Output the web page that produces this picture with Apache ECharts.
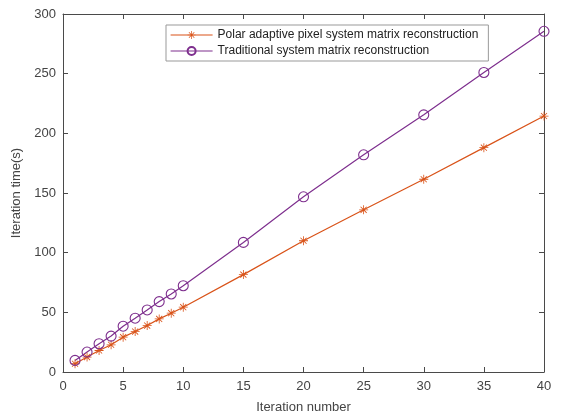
<!DOCTYPE html>
<html><head><meta charset="utf-8">
<script src="https://cdn.jsdelivr.net/npm/echarts@6/dist/echarts.min.js"></script>
<style>html,body{margin:0;padding:0;background:#fff}#c{width:561px;height:419px}</style>
</head><body><div id="c"></div>
<script>
var iterations = [1,2,3,4,5,6,7,8,9,10,15,20,25,30,35,40];
var polarTimes = [6.9,12.5,18,22.8,29.2,33.9,38.9,44.5,49.3,54.3,81.6,110,135.9,161.5,188,214.5];
var tradTimes = [9.7,16.7,23.7,30.1,38.4,45.1,52,59,65.4,72.3,108.6,146.8,182,215.5,251,285.5];
var seriesNames = ['Polar adaptive pixel system matrix reconstruction','Traditional system matrix reconstruction'];
var xTicks = [0,5,10,15,20,25,30,35,40];
var yTicks = [0,50,100,150,200,250,300];

var star = 'path://M0 9.1 L20 9.1 L20 10.9 L0 10.9 Z M9.1 0 L10.9 0 L10.9 20 L9.1 20 Z M2.6 3.9 L3.9 2.6 L17.4 16.1 L16.1 17.4 Z M16.1 2.6 L17.4 3.9 L3.9 17.4 L2.6 16.1 Z';
var font = 'Liberation Sans, Arial, sans-serif';
var axisCol = '#4a4a4a';
function pairs(xs, ys){ return xs.map(function(x,i){return [x, ys[i]];}); }
function boxAxis(pos, maxV, step){
  return {
    type:'value', position:pos, min:0, max:maxV, interval:step,
    axisLine:{show:true,onZero:false,lineStyle:{color:axisCol}},
    axisTick:{show:true,inside:true,length:5,lineStyle:{color:axisCol}},
    axisLabel:{show:false}, splitLine:{show:false}
  };
}

var chart = echarts.init(document.getElementById('c'), null, {renderer:'canvas'});
chart.setOption({
  animation:false,
  backgroundColor:'#fff',
  grid:{left:63,right:17,top:14,bottom:46},
  legend:{
    left:166, top:25, orient:'vertical', itemGap:4,
    itemWidth:42, itemHeight:10,
    padding:[4,10,4,4],
    borderColor:'#999', borderWidth:1, backgroundColor:'#fff',
    lineStyle:{width:1.2},
    textStyle:{fontFamily:font,fontSize:12,color:'#222'},
    data:seriesNames
  },
  xAxis:[{
    type:'value', min:xTicks[0], max:xTicks[xTicks.length-1], interval:5,
    name:'Iteration number', nameLocation:'middle', nameGap:29,
    nameTextStyle:{fontFamily:font,fontSize:13,color:'#444'},
    axisLine:{show:true,onZero:false,lineStyle:{color:axisCol}},
    axisTick:{show:true,inside:true,length:5,lineStyle:{color:axisCol}},
    axisLabel:{fontFamily:font,fontSize:13,color:'#444',margin:8},
    splitLine:{show:false}
  }, boxAxis('top', 40, 5)],
  yAxis:[{
    type:'value', min:yTicks[0], max:yTicks[yTicks.length-1], interval:50,
    name:'Iteration time(s)', nameLocation:'middle', nameGap:39,
    nameTextStyle:{fontFamily:font,fontSize:13,color:'#444'},
    axisLine:{show:true,onZero:false,lineStyle:{color:axisCol}},
    axisTick:{show:true,inside:true,length:5,lineStyle:{color:axisCol}},
    axisLabel:{fontFamily:font,fontSize:13,color:'#444',margin:7},
    splitLine:{show:false}
  }, boxAxis('right', 300, 50)],
  series:[{
    name:seriesNames[0], type:'line', data:pairs(iterations,polarTimes),
    xAxisIndex:0, yAxisIndex:0,
    symbol:star, symbolSize:9, showAllSymbol:true,
    lineStyle:{color:'#D95319',width:1.2},
    itemStyle:{color:'#D95319'}
  },{
    name:seriesNames[1], type:'line', data:pairs(iterations,tradTimes),
    xAxisIndex:0, yAxisIndex:0,
    symbol:'circle', symbolSize:10, showAllSymbol:true,
    lineStyle:{color:'#7E2F8E',width:1.2},
    itemStyle:{color:'rgba(0,0,0,0)',borderColor:'#7E2F8E',borderWidth:1.1}
  },{
    name:'_box', type:'line', data:[], xAxisIndex:1, yAxisIndex:1, silent:true
  }]
});
</script></body></html>
